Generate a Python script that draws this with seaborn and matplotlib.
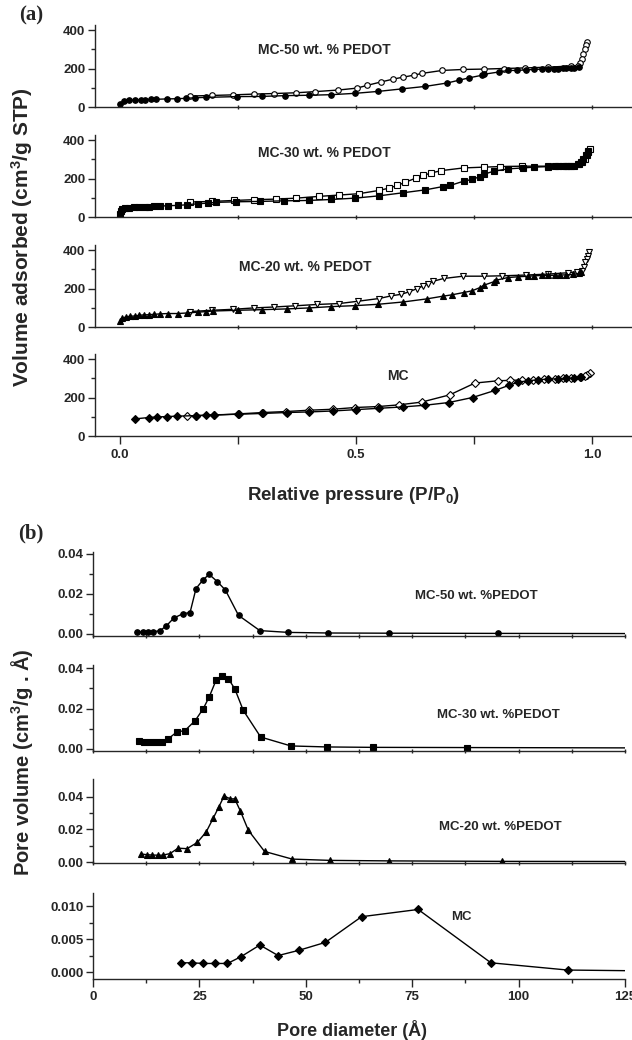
import numpy as np
import matplotlib
matplotlib.use("Agg")
import matplotlib.pyplot as plt
from matplotlib.ticker import MultipleLocator, FixedLocator, NullFormatter
import seaborn as sns

# ---------------- (a) N2 isotherms ----------------
mc50_ads_p = [0.0, 0.009, 0.02, 0.032, 0.044, 0.054, 0.065, 0.076, 0.099, 0.12, 0.139, 0.159, 0.182,
              0.248, 0.30, 0.35, 0.40, 0.448, 0.498, 0.547, 0.597, 0.647, 0.694, 0.718, 0.739, 0.767,
              0.771, 0.803, 0.822, 0.841, 0.861, 0.878, 0.895, 0.908, 0.92, 0.929, 0.938, 0.946, 0.955, 0.963, 0.972]
mc50_ads_v = [15, 33, 35, 36, 38, 38, 40, 40, 42, 43, 45, 48, 50,
              54, 55, 59, 61, 64, 71, 81, 94, 107, 125, 139, 151, 165,
              170, 182, 190, 190, 193, 195, 197, 199, 200, 200, 201, 202, 203, 205, 208]
mc50_des_p = [0.99, 0.988, 0.985, 0.982, 0.978, 0.975, 0.97, 0.955, 0.908, 0.858, 0.813, 0.771, 0.727,
              0.683, 0.641, 0.622, 0.60, 0.579, 0.553, 0.523, 0.502, 0.462, 0.414, 0.374, 0.327, 0.283,
              0.239, 0.195, 0.149]
mc50_des_v = [340, 320, 300, 275, 250, 230, 215, 213, 207, 203, 200, 197, 195,
              190, 175, 165, 155, 145, 130, 112, 98, 88, 80, 74, 70, 67,
              63, 60, 57]

mc30_ads_p = [0.0, 0.002, 0.005, 0.011, 0.020, 0.030, 0.041, 0.052, 0.062, 0.073, 0.084, 0.101, 0.122,
              0.143, 0.165, 0.186, 0.203, 0.246, 0.297, 0.348, 0.40, 0.448, 0.498, 0.549, 0.60, 0.647,
              0.684, 0.70, 0.728, 0.746, 0.763, 0.771, 0.792, 0.822, 0.854, 0.878, 0.908, 0.921, 0.929,
              0.938, 0.946, 0.955, 0.963, 0.972, 0.976, 0.982, 0.987, 0.991]
mc30_ads_v = [15, 32, 40, 45, 48, 50, 52, 53, 54, 55, 56, 59, 60,
              64, 69, 72, 76, 79, 81, 84, 86, 91, 98, 110, 126, 141,
              158, 164, 186, 195, 210, 222, 238, 250, 255, 259, 262, 263, 264,
              264, 265, 265, 267, 276, 284, 300, 320, 340]
mc30_des_p = [0.995, 0.991, 0.989, 0.985, 0.98, 0.97, 0.95, 0.906, 0.852, 0.805, 0.771, 0.728, 0.681,
              0.658, 0.643, 0.628, 0.605, 0.588, 0.57, 0.549, 0.506, 0.464, 0.421, 0.374, 0.331, 0.284,
              0.242, 0.195, 0.149]
mc30_des_v = [355, 342, 324, 302, 284, 276, 267, 264, 264, 262, 259, 255, 241,
              228, 216, 203, 181, 164, 150, 138, 121, 114, 107, 98, 93, 90,
              86, 81, 78]

mc20_ads_p = [0.0, 0.005, 0.013, 0.021, 0.031, 0.041, 0.051, 0.062, 0.073, 0.084, 0.101, 0.122, 0.143,
              0.165, 0.182, 0.197, 0.25, 0.301, 0.353, 0.40, 0.448, 0.498, 0.547, 0.60, 0.65, 0.684,
              0.703, 0.728, 0.746, 0.763, 0.771, 0.792, 0.797, 0.822, 0.844, 0.865, 0.878, 0.895, 0.908,
              0.921, 0.933, 0.946, 0.959, 0.972, 0.976]
mc20_ads_v = [31, 47, 52, 56, 57, 61, 63, 64, 66, 68, 70, 70, 73,
              77, 80, 83, 87, 90, 94, 99, 106, 111, 118, 130, 146, 160,
              167, 179, 188, 205, 217, 235, 243, 257, 261, 264, 266, 268, 268,
              269, 270, 271, 273, 278, 287]
mc20_des_p = [0.993, 0.991, 0.989, 0.986, 0.983, 0.98, 0.968, 0.95, 0.908, 0.861, 0.81, 0.771, 0.727,
              0.686, 0.664, 0.652, 0.643, 0.63, 0.613, 0.596, 0.575, 0.549, 0.505, 0.465, 0.417, 0.37,
              0.327, 0.283, 0.24, 0.195, 0.148]
mc20_des_v = [388, 371, 354, 336, 310, 293, 287, 282, 275, 270, 266, 264, 264,
              252, 238, 223, 214, 200, 183, 170, 162, 148, 134, 122, 117, 110,
              104, 99, 92, 87, 80]

mc_ads_p = [0.032, 0.061, 0.079, 0.099, 0.12, 0.162, 0.182, 0.20, 0.25, 0.301, 0.353, 0.401, 0.451,
            0.50, 0.549, 0.599, 0.647, 0.697, 0.747, 0.795, 0.824, 0.844, 0.865, 0.886, 0.908, 0.929,
            0.946, 0.963, 0.976]
mc_ads_v = [89, 96, 99, 101, 103, 106, 108, 110, 113, 117, 122, 125, 130,
            137, 144, 151, 160, 174, 200, 237, 263, 280, 287, 292, 296, 297,
            299, 301, 306]
mc_des_p = [0.997, 0.99, 0.985, 0.974, 0.955, 0.938, 0.921, 0.899, 0.876, 0.852, 0.827, 0.801, 0.752,
            0.699, 0.639, 0.592, 0.547, 0.498, 0.451, 0.401, 0.351, 0.303, 0.252, 0.199, 0.161, 0.141]
mc_des_v = [327, 318, 313, 306, 301, 299, 297, 296, 292, 291, 289, 287, 275,
            214, 176, 162, 153, 148, 139, 134, 127, 122, 115, 108, 106, 104]

# ---------------- (b) pore size distributions ----------------
psd50_d = [10.4, 11.7, 12.9, 14.2, 15.7, 17.2, 19.0, 21.2, 22.8, 24.2, 25.9, 27.3, 29.2, 31.1,
           34.2, 39.2, 45.9, 55.3, 69.5, 95.2, 135]
psd50_v = [0.0009, 0.0009, 0.0010, 0.0012, 0.0016, 0.0040, 0.0080, 0.0102, 0.0107, 0.0227, 0.0272,
           0.0298, 0.0262, 0.0220, 0.0093, 0.0017, 0.0008, 0.0005, 0.0004, 0.0003, 0.0002]

psd30_d = [10.7, 12.1, 13.4, 14.7, 16.1, 17.6, 19.7, 21.6, 24.0, 25.9, 27.3, 28.9, 30.4, 31.8,
           33.3, 35.3, 39.4, 46.5, 55.0, 65.7, 87.9, 135]
psd30_v = [0.0041, 0.0036, 0.0033, 0.0033, 0.0036, 0.0049, 0.0084, 0.0091, 0.0140, 0.0199, 0.0257,
           0.0339, 0.0359, 0.0347, 0.0298, 0.0191, 0.0059, 0.0015, 0.0010, 0.0008, 0.0007, 0.0005]

psd20_d = [11.2, 12.6, 13.9, 15.2, 16.4, 18.1, 20.0, 22.1, 24.5, 26.6, 28.3, 29.5, 30.8, 32.3,
           33.3, 34.6, 36.5, 40.3, 46.8, 55.8, 69.5, 96.1, 135]
psd20_v = [0.0050, 0.0045, 0.0043, 0.0042, 0.0042, 0.0052, 0.0085, 0.0082, 0.0120, 0.0185, 0.0272,
           0.0335, 0.0405, 0.0388, 0.0388, 0.0315, 0.0195, 0.0065, 0.0018, 0.0010, 0.0007, 0.0004, 0.0003]

psdmc_d = [20.6, 23.2, 25.9, 28.6, 31.6, 34.7, 39.2, 43.5, 48.4, 54.6, 63.1, 76.4, 93.5, 111.5, 140]
psdmc_v = [0.0014, 0.0014, 0.0013, 0.0013, 0.0013, 0.0023, 0.0041, 0.0025, 0.0033, 0.0045, 0.0084,
           0.0095, 0.0014, 0.0003, 0.0001]

# ---------------- style ----------------
sns.set_style("ticks")
plt.rcParams['font.family'] = ['Liberation Sans', 'DejaVu Sans']
plt.rcParams['font.weight'] = 'bold'
plt.rcParams['mathtext.fontset'] = 'custom'
plt.rcParams['mathtext.rm'] = 'Liberation Sans:bold'
plt.rcParams['mathtext.it'] = 'Liberation Sans:bold'
plt.rcParams['mathtext.bf'] = 'Liberation Sans:bold'
plt.rcParams['axes.linewidth'] = 1.0

W, H = 632, 1040
fig = plt.figure(figsize=(W / 100, H / 100), dpi=100)


def px_rect(left, top, right, bottom):
    return [left / W, 1 - bottom / H, (right - left) / W, (bottom - top) / H]


def ftext(x, y, s, **kw):
    fig.text(x / W, 1 - y / H, s, ha='center', va='center', **kw)


def style_axis(ax):
    sns.despine(ax=ax)
    ax.set_xlabel('')
    ax.set_ylabel('')
    ax.tick_params(axis='y', which='major', direction='out', length=5, width=1,
                   labelsize=9.5, pad=2)
    ax.tick_params(axis='y', which='minor', direction='out', length=3, width=1)
    for lab in ax.get_yticklabels():
        lab.set_fontweight('bold')


def draw(ax, x, y, marker, face, ms=4.2):
    sns.lineplot(x=x, y=y, ax=ax, color='black', linewidth=1.0, sort=False, estimator=None,
                 marker=marker, markersize=ms, markerfacecolor=face,
                 markeredgecolor='black', markeredgewidth=0.8)


iso = [
    (mc50_ads_p, mc50_ads_v, mc50_des_p, mc50_des_v, 'o', 'o', 'MC-50 wt. % PEDOT', 324, 50),
    (mc30_ads_p, mc30_ads_v, mc30_des_p, mc30_des_v, 's', 's', 'MC-30 wt. % PEDOT', 324, 153),
    (mc20_ads_p, mc20_ads_v, mc20_des_p, mc20_des_v, '^', 'v', 'MC-20 wt. % PEDOT', 305, 267),
    (mc_ads_p, mc_ads_v, mc_des_p, mc_des_v, 'D', 'D', 'MC', 398, 376),
]
a_tops = [25, 135, 245, 354]
for i, (ap, av, dp, dv, m1, m2, name, tx, ty) in enumerate(iso):
    top = a_tops[i]
    ax = fig.add_axes(px_rect(95, top, 632, top + 82))
    ms = 3.6 if m1 == 'D' else 4.0
    draw(ax, dp, dv, m2, 'white', ms)
    draw(ax, ap, av, m1, 'black', ms)
    ax.set_xlim(-0.053, 1.085)
    ax.set_ylim(0, 426)
    ax.yaxis.set_major_locator(FixedLocator([0, 200, 400]))
    ax.yaxis.set_minor_locator(FixedLocator([100, 300]))
    ax.set_yticklabels(['0', '200', '400'])
    style_axis(ax)
    if i < 3:
        ax.xaxis.set_major_locator(FixedLocator([0.25, 0.5, 0.75, 1.0]))
        ax.xaxis.set_major_formatter(NullFormatter())
        ax.tick_params(axis='x', which='major', direction='inout', length=3, width=1)
    else:
        ax.xaxis.set_major_locator(FixedLocator([0.0, 0.5, 1.0]))
        ax.xaxis.set_minor_locator(FixedLocator([0.25, 0.75]))
        ax.set_xticklabels(['0.0', '0.5', '1.0'])
        ax.tick_params(axis='x', which='both', direction='out', length=6, width=1,
                       labelsize=9.5, pad=3)
        for lab in ax.get_xticklabels():
            lab.set_fontweight('bold')
    ftext(tx, ty, name, fontsize=10, fontweight='bold')

psd = [
    (psd50_d, psd50_v, 'o', 'MC-50 wt. %PEDOT', 476, 596, 552, 636, (-0.001, 0.041)),
    (psd30_d, psd30_v, 's', 'MC-30 wt. %PEDOT', 498, 715, 665, 751, (-0.001, 0.0415)),
    (psd20_d, psd20_v, '^', 'MC-20 wt. %PEDOT', 500, 827, 779, 863, (-0.0006, 0.051)),
    (psdmc_d, psdmc_v, 'D', 'MC', 461, 917, 893, 979, (-0.00106, 0.012)),
]
for i, (d, v, m, name, tx, ty, top, bot, yl) in enumerate(psd):
    ax = fig.add_axes(px_rect(93, top, 625, bot))
    draw(ax, d, v, m, 'black', 3.8 if m == 'D' else 4.0)
    ax.set_xlim(0, 125)
    ax.set_ylim(*yl)
    if i < 3:
        ax.yaxis.set_major_locator(FixedLocator([0, 0.02, 0.04]))
        ax.yaxis.set_minor_locator(FixedLocator([0.01, 0.03]))
        ax.set_yticklabels(['0.00', '0.02', '0.04'])
        ax.xaxis.set_major_locator(MultipleLocator(25))
        ax.xaxis.set_minor_locator(MultipleLocator(12.5))
        ax.xaxis.set_major_formatter(NullFormatter())
        ax.tick_params(axis='x', which='both', direction='inout', length=3, width=1)
    else:
        ax.yaxis.set_major_locator(FixedLocator([0, 0.005, 0.010]))
        ax.yaxis.set_minor_locator(FixedLocator([0.0025, 0.0075]))
        ax.set_yticklabels(['0.000', '0.005', '0.010'])
        ax.xaxis.set_major_locator(FixedLocator([0, 25, 50, 75, 100, 125]))
        ax.xaxis.set_minor_locator(FixedLocator([12.5, 37.5, 62.5, 87.5, 112.5]))
        ax.set_xticklabels(['0', '25', '50', '75', '100', '125'])
        ax.tick_params(axis='x', which='major', direction='out', length=6, width=1,
                       labelsize=9.5, pad=3)
        ax.tick_params(axis='x', which='minor', direction='out', length=3, width=1)
        for lab in ax.get_xticklabels():
            lab.set_fontweight('bold')
    style_axis(ax)
    ftext(tx, ty, name, fontsize=9.5, fontweight='bold')

# panel letters and axis titles
ftext(31, 15, '(a)', fontsize=15, fontweight='bold', family=['Liberation Serif', 'DejaVu Serif'])
ftext(31, 533, '(b)', fontsize=15, fontweight='bold', family=['Liberation Serif', 'DejaVu Serif'])
ftext(22, 237, 'Volume adsorbed (cm$^{3}$/g STP)', fontsize=15, fontweight='bold', rotation=90)
ftext(354, 495, 'Relative pressure (P/P$_{0}$)', fontsize=13.5, fontweight='bold')
ftext(22, 762, 'Pore volume (cm$^{3}$/g . Å)', fontsize=14.5, fontweight='bold', rotation=90)
ftext(352, 1030, 'Pore diameter (Å)', fontsize=13, fontweight='bold')

fig.savefig('out.png', dpi=100)
